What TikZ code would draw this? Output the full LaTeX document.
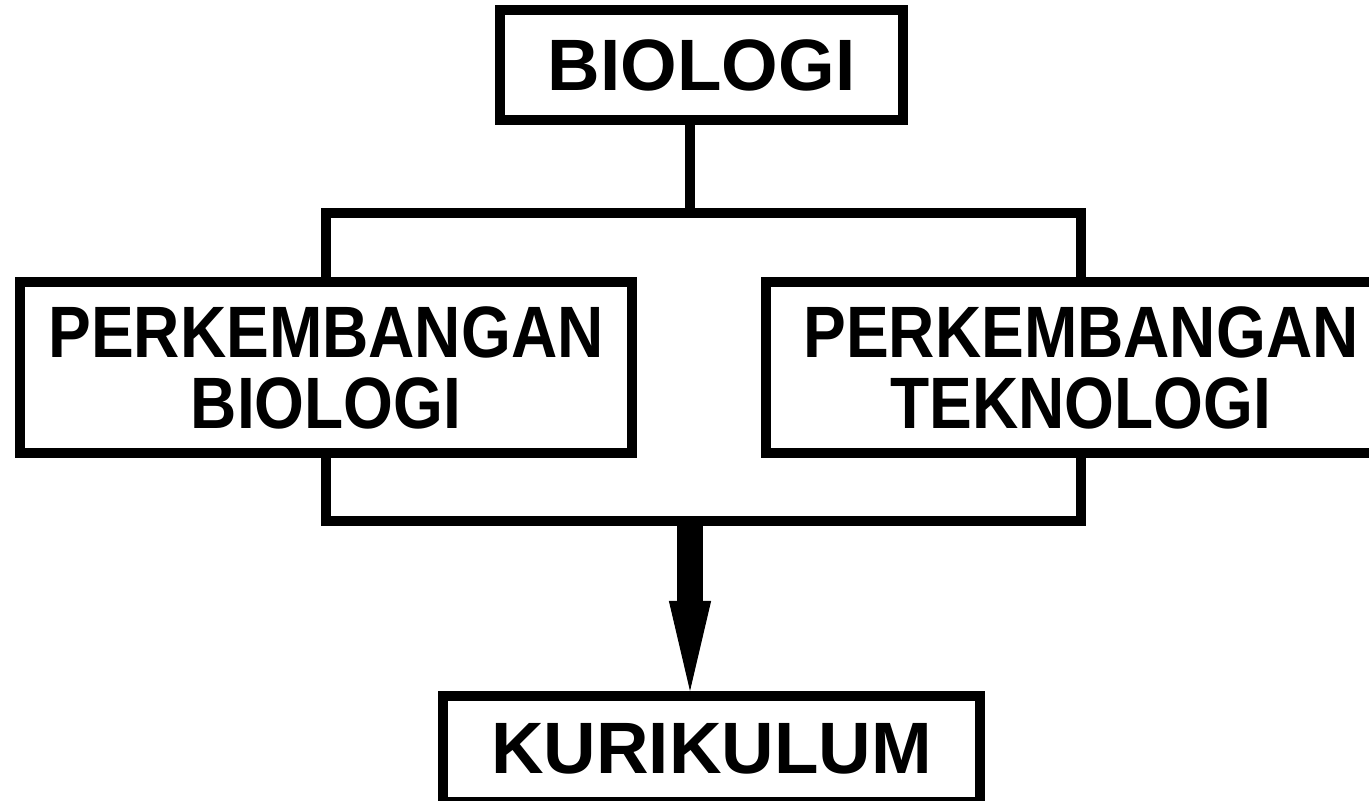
\documentclass[tikz,border=0pt]{standalone}
\usepackage{fontspec}
\setmainfont{Liberation Sans}
\newfontfamily\narrowfont[FakeStretch=0.88]{Liberation Sans}
\usetikzlibrary{arrows.meta}
\tikzset{
  box/.style={draw, line width=0.1cm, inner sep=0pt, align=center,
    font=\fontsize{20.7}{20.2}\selectfont\bfseries},
  widebox/.style={box, font=\narrowfont\fontsize{20.7}{20.2}\selectfont\bfseries},
  link/.style={line width=0.095cm},
  flow/.style={line width=0.25cm,
    -{Triangle[width=0.42cm,length=0.9cm,line width=0.01cm]}}
}
\begin{document}
\begin{tikzpicture}[x=0.01cm,y=-0.01cm]
      \clip (0,0) rectangle (1369,801);
      \node[box, minimum width=4.03cm, minimum height=1.10cm] (bio) at (701.5,65) {BIOLOGI};
      \node[widebox, minimum width=6.12cm, minimum height=1.71cm] (pbio) at (326,367.5) {PERKEMBANGAN\\BIOLOGI};
      \node[widebox, minimum width=6.30cm, minimum height=1.71cm] (ptek) at (1081,367.5) {PERKEMBANGAN\\TEKNOLOGI};
      \node[box, minimum width=5.37cm, minimum height=1.06cm] (kur) at (711.5,749) {KURIKULUM};
      \coordinate (split) at (690,213);
      \coordinate (join) at (690,521);
      \begin{scope}[link]
        \draw (bio.south -| split) -- (split);
        \draw (pbio.north) |- (split) -| (ptek.north);
        \draw (pbio.south) |- (join) -| (ptek.south);
      \end{scope}
      \draw[flow] (join) -- (kur.north -| join);
    \end{tikzpicture}
\end{document}
